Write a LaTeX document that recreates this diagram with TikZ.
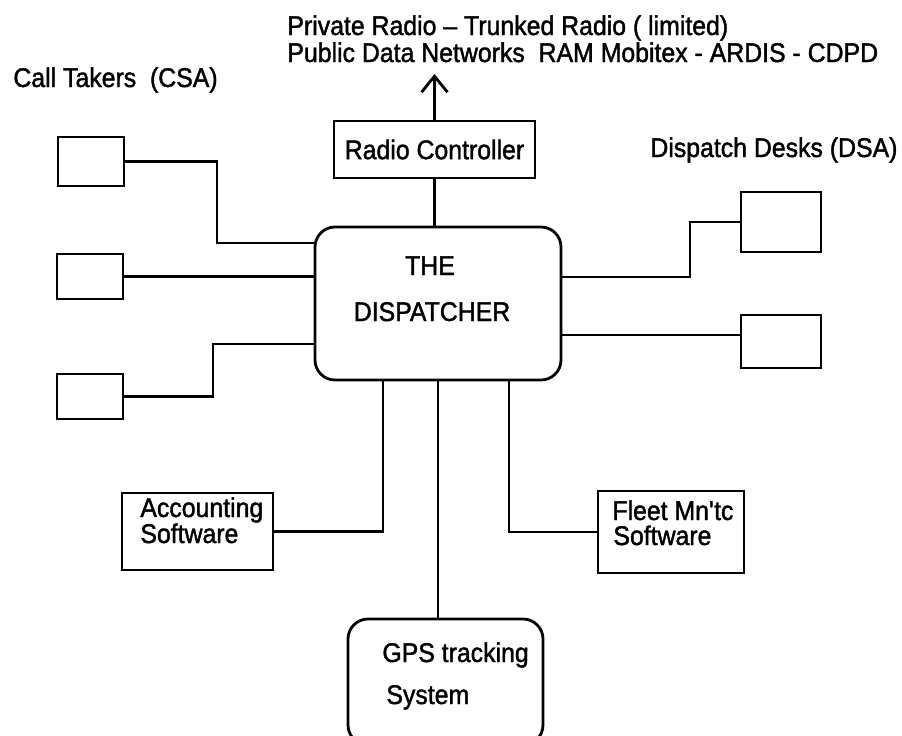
\documentclass[tikz,border=0pt]{standalone}
\usepackage{fontspec}
\setmainfont{Liberation Sans}[FakeBold=1.5,FakeStretch=0.92]
\usetikzlibrary{arrows.meta}

\begin{document}
\begin{tikzpicture}[x=1pt,y=-1pt,line width=2.8pt,
	box/.style={draw,inner sep=0pt},
	rbox/.style={draw,inner sep=0pt,rounded corners=20pt},
	txt/.style={inner sep=0pt,font=\fontsize{27}{29}\selectfont}]
\useasboundingbox (0,0) rectangle (902,736);
		\node[txt,anchor=base west] (head1) at (286,35) {Private Radio -- Trunked Radio ( limited)};
		\node[txt,anchor=base west] (head2) at (286,62) {Public Data Networks~~RAM Mobitex - ARDIS - CDPD};
		\node[txt,anchor=base west] (csa) at (12,87) {Call Takers~~(CSA)};
		\node[txt,anchor=base west] (dsa) at (649,157) {Dispatch Desks (DSA)};
\node[box,minimum width=201pt,minimum height=57pt,font=\fontsize{27}{29}\selectfont] (radio) at (434.5,149.5) {Radio Controller};
\node[rbox,minimum width=246pt,minimum height=153pt] (disp) at (438,303.5) {};
\node[txt,anchor=base] (dispa) at (430,275) {THE};
\node[txt,anchor=base] (dispb) at (432,321) {DISPATCHER};
\node[box,minimum width=66pt,minimum height=49pt] (ct1) at (91,161.5) {};
\node[box,minimum width=66pt,minimum height=45pt] (ct2) at (90,276.5) {};
\node[box,minimum width=66pt,minimum height=45pt] (ct3) at (90,396.5) {};
\node[box,minimum width=80pt,minimum height=60pt] (dsa1) at (781,222) {};
\node[box,minimum width=80pt,minimum height=53pt] (dsa2) at (781,341.5) {};
\node[box,minimum width=151pt,minimum height=77pt] (acc) at (197.5,531.5) {};
\node[txt,anchor=base west] (acca) at (139,517) {Accounting};
\node[txt,anchor=base west] (accb) at (139,543) {Software};
\node[box,minimum width=146pt,minimum height=82pt] (fleet) at (671,532) {};
\node[txt,anchor=base west] (fleeta) at (611,520) {Fleet Mn\textquotesingle tc};
\node[txt,anchor=base west] (fleetb) at (612,545) {Software};
\node[rbox,minimum width=195pt,minimum height=126pt] (gps) at (445.5,682) {};
\node[txt,anchor=base west] (gpsa) at (381,662) {GPS tracking};
\node[txt,anchor=base west] (gpsb) at (385,704) {System};
\draw[-{Straight Barb[length=16pt,width=26pt]}] (radio.north) -- (radio.north |- 0,74);
\draw (radio.south) -- (radio.south |- disp.north);
\draw (ct1.east) -- (217,161.5) -- (217,243) -- (disp.west |- 0,243);
\draw (ct2.east) -- (disp.west |- ct2.east);
\draw (ct3.east) -- (213,396.5) -- (213,344) -- (disp.west |- 0,344);
\draw (disp.east |- 0,277) -- (690,277) -- (690,222) -- (dsa1.west);
\draw (disp.east |- 0,335) -- (dsa2.west |- 0,335);
\draw (disp.south -| 383,0) |- (acc.east);
\draw (disp.south -| 509,0) |- (fleet.west);
\draw (disp.south) -- (disp.south |- gps.north);
\end{tikzpicture}
\end{document}
